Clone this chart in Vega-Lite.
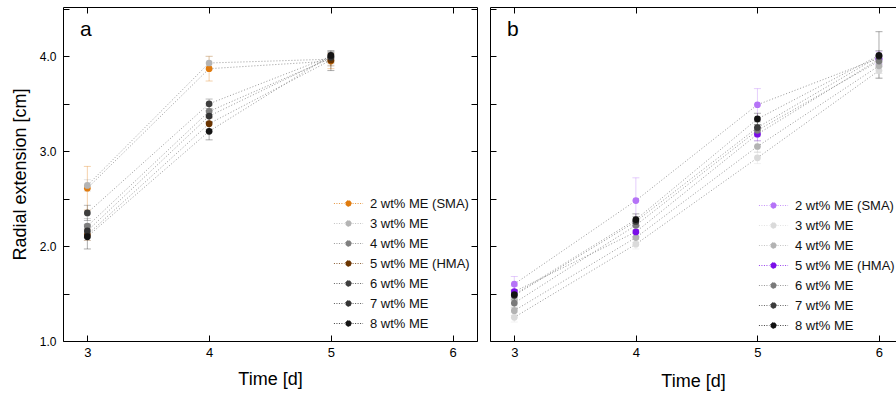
{
  "$schema": "https://vega.github.io/schema/vega-lite/v6.json",
  "background": "white",
  "padding": {"left": 10, "top": 6, "right": 0, "bottom": 0},
  "config": {
    "font": "Liberation Sans",
    "view": {"stroke": "#000", "strokeWidth": 1},
    "axis": {"grid": false, "domain": false, "tickColor": "#000", "tickSize": -6, "tickWidth": 1, "labelFont": "Liberation Sans", "labelFontSize": 13, "labelColor": "#000", "titleFont": "Liberation Sans", "titleFontSize": 18, "titleFontWeight": "normal", "titleColor": "#000"},
    "legend": {"orient": "none", "title": null, "labelFont": "Liberation Sans", "labelFontSize": 13, "labelColor": "#111", "symbolType": "M -5 0 L -1.4 0 M 1.4 0 L 5 0 M 1 0 A 1 1 0 1 0 -1 0 A 1 1 0 1 0 1 0 Z", "symbolSize": 34, "labelOffset": 15, "rowPadding": 6, "symbolStrokeWidth": 0.8, "symbolStrokeColor": "#999", "symbolOpacity": 1}
  },
  "datasets": {
    "a": [
      {"series": "2 wt% ME (SMA)", "day": 3, "y": 2.61, "lo": 2.38, "hi": 2.84},
      {"series": "2 wt% ME (SMA)", "day": 4, "y": 3.87, "lo": 3.74, "hi": 4.0},
      {"series": "2 wt% ME (SMA)", "day": 5, "y": 3.95, "lo": 3.87, "hi": 4.03},
      {"series": "3 wt% ME", "day": 3, "y": 2.64, "lo": 2.58, "hi": 2.7},
      {"series": "3 wt% ME", "day": 4, "y": 3.93, "lo": 3.86, "hi": 4.0},
      {"series": "3 wt% ME", "day": 5, "y": 3.97, "lo": 3.92, "hi": 4.02},
      {"series": "4 wt% ME", "day": 3, "y": 2.21, "lo": 2.13, "hi": 2.29},
      {"series": "4 wt% ME", "day": 4, "y": 3.42, "lo": 3.36, "hi": 3.48},
      {"series": "4 wt% ME", "day": 5, "y": 3.98, "lo": 3.93, "hi": 4.03},
      {"series": "5 wt% ME (HMA)", "day": 3, "y": 2.12, "lo": 2.06, "hi": 2.18},
      {"series": "5 wt% ME (HMA)", "day": 4, "y": 3.29, "lo": 3.23, "hi": 3.35},
      {"series": "5 wt% ME (HMA)", "day": 5, "y": 3.96, "lo": 3.9, "hi": 4.02},
      {"series": "6 wt% ME", "day": 3, "y": 2.35, "lo": 2.27, "hi": 2.43},
      {"series": "6 wt% ME", "day": 4, "y": 3.5, "lo": 3.45, "hi": 3.55},
      {"series": "6 wt% ME", "day": 5, "y": 4.0, "lo": 3.95, "hi": 4.05},
      {"series": "7 wt% ME", "day": 3, "y": 2.16, "lo": 2.09, "hi": 2.23},
      {"series": "7 wt% ME", "day": 4, "y": 3.37, "lo": 3.31, "hi": 3.43},
      {"series": "7 wt% ME", "day": 5, "y": 3.99, "lo": 3.94, "hi": 4.04},
      {"series": "8 wt% ME", "day": 3, "y": 2.1, "lo": 1.97, "hi": 2.22},
      {"series": "8 wt% ME", "day": 4, "y": 3.21, "lo": 3.12, "hi": 3.3},
      {"series": "8 wt% ME", "day": 5, "y": 4.01, "lo": 3.85, "hi": 4.06}
    ],
    "b": [
      {"series": "2 wt% ME (SMA)", "day": 3, "y": 1.6, "lo": 1.52, "hi": 1.68},
      {"series": "2 wt% ME (SMA)", "day": 4, "y": 2.48, "lo": 2.25, "hi": 2.72},
      {"series": "2 wt% ME (SMA)", "day": 5, "y": 3.49, "lo": 3.33, "hi": 3.66},
      {"series": "2 wt% ME (SMA)", "day": 6, "y": 3.98, "lo": 3.91, "hi": 4.05},
      {"series": "3 wt% ME", "day": 3, "y": 1.25, "lo": 1.2, "hi": 1.3},
      {"series": "3 wt% ME", "day": 4, "y": 2.02, "lo": 1.97, "hi": 2.07},
      {"series": "3 wt% ME", "day": 5, "y": 2.93, "lo": 2.87, "hi": 2.99},
      {"series": "3 wt% ME", "day": 6, "y": 3.85, "lo": 3.77, "hi": 3.93},
      {"series": "4 wt% ME", "day": 3, "y": 1.32, "lo": 1.27, "hi": 1.37},
      {"series": "4 wt% ME", "day": 4, "y": 2.09, "lo": 2.04, "hi": 2.14},
      {"series": "4 wt% ME", "day": 5, "y": 3.05, "lo": 2.99, "hi": 3.11},
      {"series": "4 wt% ME", "day": 6, "y": 3.9, "lo": 3.82, "hi": 3.98},
      {"series": "5 wt% ME (HMA)", "day": 3, "y": 1.52, "lo": 1.46, "hi": 1.58},
      {"series": "5 wt% ME (HMA)", "day": 4, "y": 2.15, "lo": 2.1, "hi": 2.2},
      {"series": "5 wt% ME (HMA)", "day": 5, "y": 3.18, "lo": 3.11, "hi": 3.25},
      {"series": "5 wt% ME (HMA)", "day": 6, "y": 3.97, "lo": 3.92, "hi": 4.02},
      {"series": "6 wt% ME", "day": 3, "y": 1.4, "lo": 1.35, "hi": 1.45},
      {"series": "6 wt% ME", "day": 4, "y": 2.22, "lo": 2.17, "hi": 2.27},
      {"series": "6 wt% ME", "day": 5, "y": 3.22, "lo": 3.16, "hi": 3.28},
      {"series": "6 wt% ME", "day": 6, "y": 3.95, "lo": 3.89, "hi": 4.01},
      {"series": "7 wt% ME", "day": 3, "y": 1.48, "lo": 1.43, "hi": 1.53},
      {"series": "7 wt% ME", "day": 4, "y": 2.26, "lo": 2.21, "hi": 2.31},
      {"series": "7 wt% ME", "day": 5, "y": 3.25, "lo": 3.19, "hi": 3.31},
      {"series": "7 wt% ME", "day": 6, "y": 4.0, "lo": 3.94, "hi": 4.06},
      {"series": "8 wt% ME", "day": 3, "y": 1.49, "lo": 1.44, "hi": 1.54},
      {"series": "8 wt% ME", "day": 4, "y": 2.28, "lo": 2.22, "hi": 2.34},
      {"series": "8 wt% ME", "day": 5, "y": 3.34, "lo": 3.28, "hi": 3.4},
      {"series": "8 wt% ME", "day": 6, "y": 4.01, "lo": 3.77, "hi": 4.26}
    ]
  },
  "spacing": 11,
  "resolve": {"scale": {"color": "independent"}},
  "hconcat": [
    {
      "width": 414,
      "height": 334,
      "data": {"name": "a"},
      "title": {"text": "a", "anchor": "start", "frame": "group", "orient": "top", "baseline": "alphabetic", "offset": -50, "dx": 17, "fontSize": 21, "fontWeight": "normal", "font": "Liberation Sans", "color": "#000"},
      "layer": [
        {
          "layer": [
            {
              "mark": {"type": "errorbar", "ticks": {"size": 7}, "thickness": 1, "opacity": 0.35},
              "encoding": {
                "x": {"field": "day", "type": "quantitative", "scale": {"domain": [2.8, 6.2], "nice": false}, "axis": {"values": [3, 4, 5, 6], "format": "d", "title": "Time [d]", "labelPadding": 11, "titlePadding": 11}},
                "y": {"field": "lo", "type": "quantitative", "scale": {"domain": [1, 4.52], "nice": false}, "axis": {"values": [1, 1.5, 2, 2.5, 3, 3.5, 4, 4.5], "labelExpr": "datum.value % 1 === 0 ? format(datum.value, '.1f') : ''", "title": "Radial extension [cm]", "labelPadding": 13, "titlePadding": 10, "labelFontSize": 12}},
                "y2": {"field": "hi"},
                "color": {"field": "series", "type": "nominal", "scale": {"domain": ["2 wt% ME (SMA)", "3 wt% ME", "4 wt% ME", "5 wt% ME (HMA)", "6 wt% ME", "7 wt% ME", "8 wt% ME"], "range": ["#e07b0e", "#b4b4b4", "#7f7f7f", "#6a3400", "#3e3e3e", "#333333", "#141414"]}, "legend": {"legendX": 279, "legendY": 190, "encode": {"symbols": {"update": {"stroke": {"value": "#9a9a9a"}, "strokeDash": {"value": [1, 1.5]}, "strokeWidth": {"value": 0.8}}}}}}
              }
            },
            {
              "mark": {"type": "line", "strokeDash": [1, 2], "strokeWidth": 0.9, "color": "#8c8c8c"},
              "encoding": {
                "x": {"field": "day", "type": "quantitative"},
                "y": {"field": "y", "type": "quantitative"},
                "detail": {"field": "series"}
              }
            },
            {
              "mark": {"type": "circle", "size": 45, "opacity": 1},
              "encoding": {
                "x": {"field": "day", "type": "quantitative"},
                "y": {"field": "y", "type": "quantitative"},
                "color": {"field": "series", "type": "nominal", "legend": {"legendX": 279, "legendY": 190, "encode": {"symbols": {"update": {"stroke": {"value": "#9a9a9a"}, "strokeDash": {"value": [1, 1.5]}, "strokeWidth": {"value": 0.8}}}}}}
              }
            }
          ]
        },
        {
          "mark": {"type": "point", "opacity": 0},
          "encoding": {
            "x": {"field": "day", "type": "quantitative", "axis": {"orient": "top", "labels": false, "title": null, "values": [3, 4, 5, 6]}},
            "y": {"field": "y", "type": "quantitative", "axis": {"orient": "right", "labels": false, "title": null, "values": [1, 1.5, 2, 2.5, 3, 3.5, 4, 4.5]}}
          }
        }
      ],
      "resolve": {"axis": {"x": "independent", "y": "independent"}}
    },
    {
      "width": 406,
      "height": 334,
      "data": {"name": "b"},
      "title": {"text": "b", "anchor": "start", "frame": "group", "orient": "top", "baseline": "alphabetic", "offset": -50, "dx": 17, "fontSize": 21, "fontWeight": "normal", "font": "Liberation Sans", "color": "#000"},
      "layer": [
        {
          "layer": [
            {
              "mark": {"type": "errorbar", "ticks": {"size": 7}, "thickness": 1, "opacity": 0.35},
              "encoding": {
                "x": {"field": "day", "type": "quantitative", "scale": {"domain": [2.8, 6.14], "nice": false}, "axis": {"values": [3, 4, 5, 6], "format": "d", "title": "Time [d]", "labelPadding": 11, "titlePadding": 13}},
                "y": {"field": "lo", "type": "quantitative", "scale": {"domain": [1, 4.52], "nice": false}, "axis": {"values": [1, 1.5, 2, 2.5, 3, 3.5, 4, 4.5], "labels": false, "title": null}},
                "y2": {"field": "hi"},
                "color": {"field": "series", "type": "nominal", "scale": {"domain": ["2 wt% ME (SMA)", "3 wt% ME", "4 wt% ME", "5 wt% ME (HMA)", "6 wt% ME", "7 wt% ME", "8 wt% ME"], "range": ["#b573f7", "#dadada", "#b3b3b3", "#7b0ee8", "#7a7a7a", "#3c3c3c", "#121212"]}, "legend": {"legendX": 277, "legendY": 192, "encode": {"symbols": {"update": {"stroke": {"value": "#9a9a9a"}, "strokeDash": {"value": [1, 1.5]}, "strokeWidth": {"value": 0.8}}}}}}
              }
            },
            {
              "mark": {"type": "line", "strokeDash": [1, 2], "strokeWidth": 0.9, "color": "#8c8c8c"},
              "encoding": {
                "x": {"field": "day", "type": "quantitative"},
                "y": {"field": "y", "type": "quantitative"},
                "detail": {"field": "series"}
              }
            },
            {
              "mark": {"type": "circle", "size": 45, "opacity": 1},
              "encoding": {
                "x": {"field": "day", "type": "quantitative"},
                "y": {"field": "y", "type": "quantitative"},
                "color": {"field": "series", "type": "nominal", "legend": {"legendX": 277, "legendY": 192, "encode": {"symbols": {"update": {"stroke": {"value": "#9a9a9a"}, "strokeDash": {"value": [1, 1.5]}, "strokeWidth": {"value": 0.8}}}}}}
              }
            }
          ]
        },
        {
          "mark": {"type": "point", "opacity": 0},
          "encoding": {
            "x": {"field": "day", "type": "quantitative", "axis": {"orient": "top", "labels": false, "title": null, "values": [3, 4, 5, 6]}},
            "y": {"field": "y", "type": "quantitative", "axis": null}
          }
        }
      ],
      "resolve": {"axis": {"x": "independent", "y": "independent"}}
    }
  ]
}
